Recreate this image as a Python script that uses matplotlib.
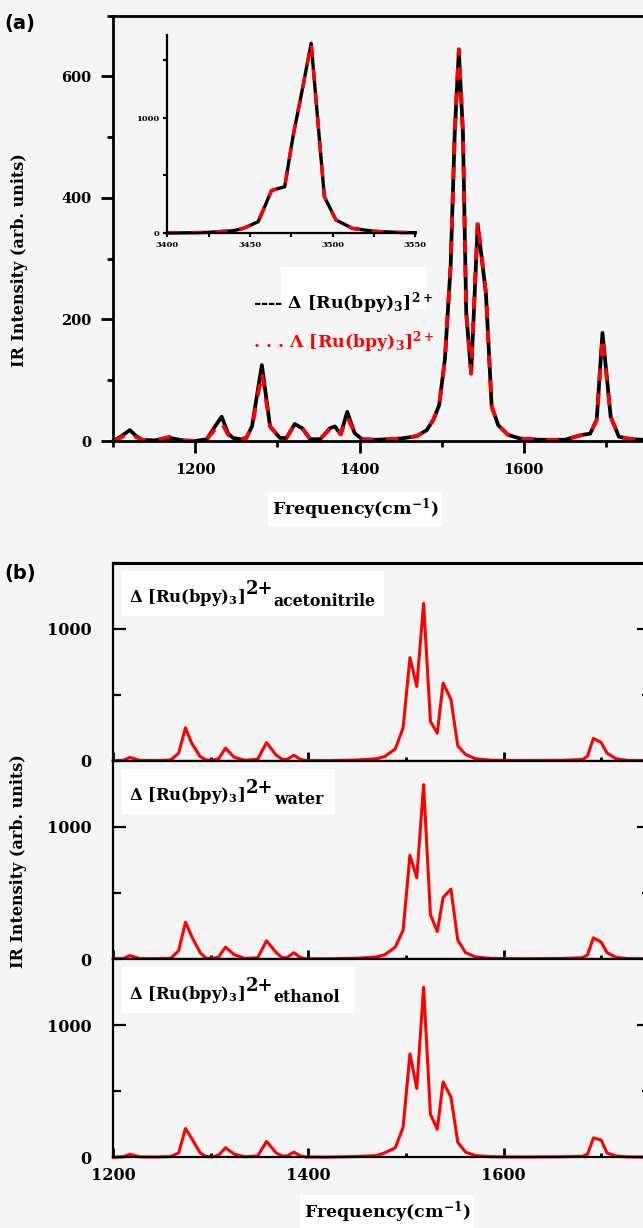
import matplotlib
matplotlib.use('Agg')
import matplotlib.pyplot as plt
from matplotlib.patches import Rectangle
from matplotlib.ticker import MultipleLocator

# Panel (a): Delta / Lambda enantiomers, gas phase
freq_a = [1100, 1110, 1120, 1128, 1135, 1150, 1169, 1185, 1200, 1214,
          1222, 1232, 1240, 1246, 1255, 1262, 1269, 1281, 1291, 1303,
          1311, 1321, 1330, 1340, 1352, 1364, 1370, 1377, 1385, 1394,
          1403, 1420, 1450, 1470, 1482, 1490, 1497, 1504, 1511, 1516,
          1521, 1526, 1530, 1536, 1544, 1554, 1561, 1569, 1581, 1596,
          1620, 1650, 1671, 1681, 1689, 1696, 1706, 1716, 1731, 1760]
delta_a = [0, 8, 18, 8, 2, 1, 5, 1, 0, 3,
           20, 40, 12, 5, 3, 5, 24, 125, 24, 5,
           5, 28, 21, 3, 3, 21, 24, 11, 48, 13,
           3, 2, 4, 8, 18, 35, 59, 134, 288, 507,
           642, 507, 211, 111, 356, 243, 57, 26, 10, 4,
           2, 2, 10, 12, 35, 178, 40, 7, 3, 1]
lambda_a = [0, 6, 14, 6, 2, 1, 7, 1, 0, 3,
            16, 30, 10, 5, 3, 5, 22, 112, 24, 5,
            5, 27, 22, 3, 3, 20, 25, 11, 40, 13,
            3, 2, 4, 8, 18, 35, 59, 134, 288, 507,
            645, 507, 211, 111, 362, 243, 57, 26, 10, 4,
            2, 2, 10, 12, 35, 170, 40, 7, 3, 1]

# inset: high-frequency region
freq_inset = [3400, 3410, 3424, 3440, 3446, 3455, 3463, 3466, 3471, 3476,
              3482, 3487, 3495, 3502, 3512, 3525, 3540, 3550]
int_inset = [0, 1, 5, 20, 40, 98, 367, 381, 401, 834,
             1268, 1644, 315, 113, 40, 15, 5, 3]

# Panel (b): Delta enantiomer in three solvents
freq_b = [1200, 1210, 1217, 1227, 1245, 1259, 1267, 1274, 1280, 1289,
          1295, 1302, 1308, 1315, 1324, 1335, 1348, 1357, 1367, 1373,
          1378, 1385, 1392, 1398, 1420, 1450, 1470, 1478, 1489, 1497,
          1504, 1511, 1518, 1525, 1532, 1538, 1546, 1553, 1561, 1571,
          1588, 1620, 1660, 1681, 1686, 1692, 1700, 1706, 1715, 1727, 1750]
acetonitrile = [0, 3, 26, 3, 2, 6, 58, 250, 138, 32,
                6, 4, 16, 96, 26, 4, 12, 138, 42, 12,
                10, 42, 10, 2, 1, 6, 16, 32, 90, 250,
                781, 563, 1193, 299, 209, 588, 466, 113, 48, 16,
                4, 2, 4, 10, 35, 170, 138, 58, 16, 3, 1]
water = [0, 3, 26, 3, 2, 6, 64, 279, 176, 48,
         6, 4, 16, 90, 32, 4, 10, 138, 48, 10,
         10, 48, 10, 2, 1, 6, 16, 32, 90, 218,
         785, 615, 1320, 336, 208, 465, 529, 144, 48, 16,
         4, 2, 4, 10, 32, 160, 128, 48, 13, 3, 1]
ethanol = [0, 3, 23, 3, 2, 6, 33, 218, 147, 33,
           6, 4, 16, 72, 23, 4, 10, 120, 33, 10,
           10, 39, 10, 2, 1, 6, 13, 33, 72, 228,
           782, 521, 1287, 326, 212, 570, 456, 114, 39, 13,
           4, 2, 4, 8, 23, 147, 130, 33, 10, 3, 1]
solvents = ['acetonitrile', 'water', 'ethanol']

plt.rcParams['font.family'] = 'DejaVu Serif'
plt.rcParams['font.weight'] = 'bold'
plt.rcParams['mathtext.fontset'] = 'dejavuserif'
plt.rcParams['mathtext.default'] = 'bf'

BG = '#f5f5f5'
W, H = 643, 1228


def fx(px):
    return px / W


def fy(py):
    return 1 - py / H


fig = plt.figure(figsize=(W / 100, H / 100), dpi=100, facecolor=BG)

# ---------------- panel (a)
ax_a = fig.add_axes([fx(113.3), fy(441), (655 - 113.3) / W, (441 - 15.7) / H])
ax_a.set_facecolor(BG)
ax_a.plot(freq_a, delta_a, color='black', lw=2.7, clip_on=False)
ax_a.plot(freq_a, lambda_a, color='red', lw=2.7, dashes=(3.3, 3.3), clip_on=False)
ax_a.set_xlim(1100, 1760)
ax_a.set_ylim(0, 700)
ax_a.xaxis.set_major_locator(MultipleLocator(200))
ax_a.xaxis.set_minor_locator(MultipleLocator(100))
ax_a.yaxis.set_major_locator(MultipleLocator(200))
ax_a.yaxis.set_minor_locator(MultipleLocator(100))
ax_a.tick_params(which='major', direction='out', length=8.6, width=2, labelsize=10.5, pad=7)
ax_a.tick_params(which='minor', direction='out', length=4.3, width=2)
for s in ax_a.spines.values():
    s.set_linewidth(2)

ax_a.add_patch(Rectangle((0.31, 0.31), 0.27, 0.1, transform=ax_a.transAxes,
                         facecolor='white', edgecolor='none', zorder=0.5))
ax_a.text(0.258, 0.325, '---- Δ [Ru(bpy)$_3$]$^{2+}$', transform=ax_a.transAxes,
          fontsize=12.5, color='black', va='center')
ax_a.text(0.258, 0.232, '. . . Λ [Ru(bpy)$_3$]$^{2+}$', transform=ax_a.transAxes,
          fontsize=12.5, color='red', va='center')

# inset
ax_in = fig.add_axes([fx(167.3), fy(233), (415.3 - 167.3) / W, (233 - 35) / H])
ax_in.set_facecolor('none')
ax_in.plot(freq_inset, int_inset, color='black', lw=2.4, clip_on=False)
ax_in.plot(freq_inset, int_inset, color='red', lw=2.4, dashes=(3.6, 3.6), clip_on=False)
ax_in.set_xlim(3400, 3550)
ax_in.set_ylim(0, 1716)
ax_in.xaxis.set_major_locator(MultipleLocator(50))
ax_in.xaxis.set_minor_locator(MultipleLocator(25))
ax_in.yaxis.set_major_locator(MultipleLocator(1000))
ax_in.yaxis.set_minor_locator(MultipleLocator(500))
ax_in.tick_params(which='both', direction='out', length=3, width=1.5, labelsize=6, pad=3)
ax_in.spines['top'].set_visible(False)
ax_in.spines['right'].set_visible(False)
ax_in.spines['left'].set_linewidth(1.6)
ax_in.spines['bottom'].set_linewidth(1.6)

# ---------------- panel (b)
edges = [562.7, 760.8, 959.0, 1157.3]
box_w = [262, 213, 233]
series_b = [acetonitrile, water, ethanol]
for i, (name, vals) in enumerate(zip(solvents, series_b)):
    ax = fig.add_axes([fx(113.3), fy(edges[i + 1]), 536.7 / W, (edges[i + 1] - edges[i]) / H])
    ax.set_facecolor(BG)
    ax.plot(freq_b, vals, color='red', lw=2.2, clip_on=False)
    ax.set_xlim(1200, 1750)
    ax.set_ylim(0, 1500)
    ax.xaxis.set_major_locator(MultipleLocator(200))
    ax.xaxis.set_minor_locator(MultipleLocator(100))
    ax.yaxis.set_major_locator(MultipleLocator(1000))
    ax.yaxis.set_minor_locator(MultipleLocator(500))
    ax.tick_params(axis='y', which='major', direction='in', length=9.4, width=1.6,
                   right=True, labelsize=11.5, pad=15.5)
    ax.tick_params(axis='y', which='minor', direction='in', length=5.8, width=1.6, right=True)
    ax.tick_params(axis='x', which='major', direction='in', length=6.5, width=2,
                   labelsize=11.5, pad=6.8, labelbottom=(i == 2))
    ax.tick_params(axis='x', which='minor', direction='in', length=3, width=2)
    for s in ax.spines.values():
        s.set_linewidth(1.6)
    if i == 0:
        ax.spines['top'].set_linewidth(2.2)

    ax.add_patch(Rectangle((0.016, 0.73), box_w[i] / 536.7, 0.23, transform=ax.transAxes,
                           facecolor='white', edgecolor='none', zorder=0.5))
    t0 = ax.text(0.029, 0.8, 'Δ [Ru(bpy)$_3$]', transform=ax.transAxes, fontsize=11.8,
                 va='baseline')
    t1 = ax.annotate('2+', xy=(1, 0), xycoords=(t0, t0), xytext=(1, 10),
                     textcoords='offset points', fontsize=13, va='baseline')
    ax.annotate(name, xy=(1, 0), xycoords=(t1, t0), xytext=(0, 2),
                textcoords='offset points', fontsize=11.3, va='baseline')

# ---------------- labels
fig.text(fx(4), fy(14), '(a)', family='DejaVu Sans', weight='bold', fontsize=14, va='top')
fig.text(fx(4), fy(564), '(b)', family='DejaVu Sans', weight='bold', fontsize=14, va='top')
fig.text(fx(20), fy(260), 'IR Intensity (arb. units)', rotation=90, ha='center',
         va='center', fontsize=11.5)
fig.text(fx(19), fy(861), 'IR Intensity (arb. units)', rotation=90, ha='center',
         va='center', fontsize=11.5)
fig.text(fx(355), fy(509), 'Frequency(cm$^{-1}$)', ha='center', va='center', fontsize=12.5,
         bbox=dict(facecolor='white', edgecolor='none', pad=3))
fig.text(fx(387), fy(1212), 'Frequency(cm$^{-1}$)', ha='center', va='center', fontsize=12.5,
         bbox=dict(facecolor='white', edgecolor='none', pad=3))

fig.savefig('out.png', dpi=100, facecolor=BG)
